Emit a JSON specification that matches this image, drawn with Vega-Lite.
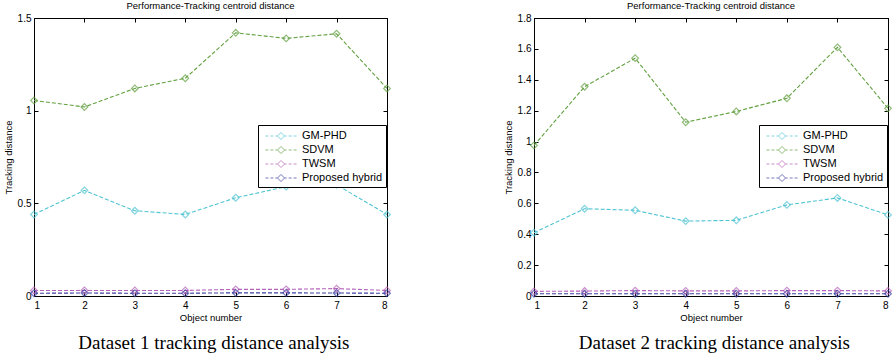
{
  "$schema": "https://vega.github.io/schema/vega-lite/v6.json",
  "padding": {"left": 2, "top": 0, "right": 0, "bottom": 0},
  "background": "white",
  "datasets": {
    "d": [
      {"dataset": 1, "object": 1, "method": "GM-PHD", "value": 0.44},
      {"dataset": 1, "object": 2, "method": "GM-PHD", "value": 0.57},
      {"dataset": 1, "object": 3, "method": "GM-PHD", "value": 0.46},
      {"dataset": 1, "object": 4, "method": "GM-PHD", "value": 0.44},
      {"dataset": 1, "object": 5, "method": "GM-PHD", "value": 0.53},
      {"dataset": 1, "object": 6, "method": "GM-PHD", "value": 0.59},
      {"dataset": 1, "object": 7, "method": "GM-PHD", "value": 0.6},
      {"dataset": 1, "object": 8, "method": "GM-PHD", "value": 0.44},
      {"dataset": 1, "object": 1, "method": "SDVM", "value": 1.055},
      {"dataset": 1, "object": 2, "method": "SDVM", "value": 1.02},
      {"dataset": 1, "object": 3, "method": "SDVM", "value": 1.12},
      {"dataset": 1, "object": 4, "method": "SDVM", "value": 1.175},
      {"dataset": 1, "object": 5, "method": "SDVM", "value": 1.42},
      {"dataset": 1, "object": 6, "method": "SDVM", "value": 1.39},
      {"dataset": 1, "object": 7, "method": "SDVM", "value": 1.415},
      {"dataset": 1, "object": 8, "method": "SDVM", "value": 1.12},
      {"dataset": 1, "object": 1, "method": "TWSM", "value": 0.03},
      {"dataset": 1, "object": 2, "method": "TWSM", "value": 0.03},
      {"dataset": 1, "object": 3, "method": "TWSM", "value": 0.03},
      {"dataset": 1, "object": 4, "method": "TWSM", "value": 0.03},
      {"dataset": 1, "object": 5, "method": "TWSM", "value": 0.036},
      {"dataset": 1, "object": 6, "method": "TWSM", "value": 0.036},
      {"dataset": 1, "object": 7, "method": "TWSM", "value": 0.04},
      {"dataset": 1, "object": 8, "method": "TWSM", "value": 0.03},
      {"dataset": 1, "object": 1, "method": "Proposed hybrid", "value": 0.015},
      {"dataset": 1, "object": 2, "method": "Proposed hybrid", "value": 0.016},
      {"dataset": 1, "object": 3, "method": "Proposed hybrid", "value": 0.015},
      {"dataset": 1, "object": 4, "method": "Proposed hybrid", "value": 0.015},
      {"dataset": 1, "object": 5, "method": "Proposed hybrid", "value": 0.017},
      {"dataset": 1, "object": 6, "method": "Proposed hybrid", "value": 0.017},
      {"dataset": 1, "object": 7, "method": "Proposed hybrid", "value": 0.016},
      {"dataset": 1, "object": 8, "method": "Proposed hybrid", "value": 0.015},
      {"dataset": 2, "object": 1, "method": "GM-PHD", "value": 0.41},
      {"dataset": 2, "object": 2, "method": "GM-PHD", "value": 0.565},
      {"dataset": 2, "object": 3, "method": "GM-PHD", "value": 0.555},
      {"dataset": 2, "object": 4, "method": "GM-PHD", "value": 0.485},
      {"dataset": 2, "object": 5, "method": "GM-PHD", "value": 0.49},
      {"dataset": 2, "object": 6, "method": "GM-PHD", "value": 0.59},
      {"dataset": 2, "object": 7, "method": "GM-PHD", "value": 0.635},
      {"dataset": 2, "object": 8, "method": "GM-PHD", "value": 0.525},
      {"dataset": 2, "object": 1, "method": "SDVM", "value": 0.975},
      {"dataset": 2, "object": 2, "method": "SDVM", "value": 1.355},
      {"dataset": 2, "object": 3, "method": "SDVM", "value": 1.54},
      {"dataset": 2, "object": 4, "method": "SDVM", "value": 1.125},
      {"dataset": 2, "object": 5, "method": "SDVM", "value": 1.195},
      {"dataset": 2, "object": 6, "method": "SDVM", "value": 1.28},
      {"dataset": 2, "object": 7, "method": "SDVM", "value": 1.61},
      {"dataset": 2, "object": 8, "method": "SDVM", "value": 1.215},
      {"dataset": 2, "object": 1, "method": "TWSM", "value": 0.03},
      {"dataset": 2, "object": 2, "method": "TWSM", "value": 0.032},
      {"dataset": 2, "object": 3, "method": "TWSM", "value": 0.035},
      {"dataset": 2, "object": 4, "method": "TWSM", "value": 0.033},
      {"dataset": 2, "object": 5, "method": "TWSM", "value": 0.033},
      {"dataset": 2, "object": 6, "method": "TWSM", "value": 0.035},
      {"dataset": 2, "object": 7, "method": "TWSM", "value": 0.035},
      {"dataset": 2, "object": 8, "method": "TWSM", "value": 0.033},
      {"dataset": 2, "object": 1, "method": "Proposed hybrid", "value": 0.015},
      {"dataset": 2, "object": 2, "method": "Proposed hybrid", "value": 0.015},
      {"dataset": 2, "object": 3, "method": "Proposed hybrid", "value": 0.015},
      {"dataset": 2, "object": 4, "method": "Proposed hybrid", "value": 0.015},
      {"dataset": 2, "object": 5, "method": "Proposed hybrid", "value": 0.015},
      {"dataset": 2, "object": 6, "method": "Proposed hybrid", "value": 0.015},
      {"dataset": 2, "object": 7, "method": "Proposed hybrid", "value": 0.015},
      {"dataset": 2, "object": 8, "method": "Proposed hybrid", "value": 0.015}
    ]
  },
  "config": {
    "font": "Liberation Sans",
    "view": {"stroke": "black", "strokeWidth": 1},
    "axis": {
      "grid": false,
      "domainColor": "black",
      "tickColor": "black",
      "tickSize": -4,
      "labelColor": "black",
      "labelFont": "Liberation Sans",
      "labelFontSize": 10,
      "titleFont": "Liberation Sans",
      "titleFontSize": 9.5,
      "titleFontWeight": "normal",
      "titleColor": "black"
    },
    "legend": {
      "labelFont": "Liberation Sans",
      "labelFontSize": 11,
      "labelColor": "black",
      "title": null,
      "orient": "none",
      "legendX": 224,
      "legendY": 107,
      "strokeColor": "black",
      "fillColor": "white",
      "padding": 3,
      "rowPadding": 0,
      "symbolType": "M-0.5,0H-0.08M0.2,0H0.62M0.9,0H1.2M2.2,0H2.5M2.78,0H3.2M3.48,0H3.9M1.7,-0.5L2.2,0L1.7,0.5L1.2,0Z",
      "symbolSize": 200,
      "symbolStrokeWidth": 1,
      "symbolFillColor": "transparent",
      "labelOffset": 25
    }
  },
  "spacing": 108,
  "hconcat": [
    {
      "title": {"text": "Dataset 1 tracking distance analysis", "orient": "bottom", "anchor": "middle", "font": "Liberation Serif", "fontSize": 19, "fontWeight": "normal", "color": "black", "offset": 12, "dx": 16},
      "vconcat": [
        {
          "width": 353,
          "height": 278,
          "title": {"text": "Performance-Tracking centroid distance", "font": "Liberation Sans", "fontSize": 9.5, "fontWeight": "normal", "color": "black", "offset": 3},
          "data": {"name": "d"},
          "transform": [{"filter": "datum.dataset == 1"}],
          "layer": [
            {"mark": {"type": "line", "strokeDash": [4, 2], "strokeWidth": 1.1},
             "encoding": {
               "x": {"field": "object", "type": "quantitative", "scale": {"domain": [1, 8], "nice": false}, "axis": {"values": [1, 2, 3, 4, 5, 6, 7, 8], "title": "Object number", "labelPadding": 8, "titlePadding": 2}},
               "y": {"field": "value", "type": "quantitative", "scale": {"domain": [0, 1.5], "nice": false}, "axis": {"values": [0, 0.5, 1, 1.5], "format": "~g", "title": "Tracking distance", "labelPadding": 7, "titlePadding": 4}},
               "color": {"field": "method", "type": "nominal", "scale": {"domain": ["GM-PHD", "SDVM", "TWSM", "Proposed hybrid"], "range": ["#4fc4d2", "#62a040", "#b562b8", "#3c40a0"]}, "legend": {"legendX": 224, "legendY": 107}}
             }},
            {"mark": {"type": "point", "shape": "diamond", "filled": false, "size": 45, "strokeWidth": 1.2},
             "encoding": {
               "x": {"field": "object", "type": "quantitative", "axis": null},
               "y": {"field": "value", "type": "quantitative", "axis": null},
               "color": {"field": "method", "type": "nominal"}
             }},
            {"mark": {"type": "point", "opacity": 0},
             "encoding": {
               "x": {"field": "object", "type": "quantitative", "axis": {"orient": "top", "values": [1, 2, 3, 4, 5, 6, 7, 8], "labels": false, "title": null}},
               "y": {"field": "value", "type": "quantitative", "axis": {"orient": "right", "values": [0, 0.5, 1, 1.5], "labels": false, "title": null}}
             }}
          ],
          "resolve": {"axis": {"x": "independent", "y": "independent"}}
        }
      ]
    },
    {
      "title": {"text": "Dataset 2 tracking distance analysis", "orient": "bottom", "anchor": "middle", "font": "Liberation Serif", "fontSize": 19, "fontWeight": "normal", "color": "black", "offset": 12, "dx": 16},
      "vconcat": [
        {
          "width": 354,
          "height": 278,
          "title": {"text": "Performance-Tracking centroid distance", "font": "Liberation Sans", "fontSize": 9.5, "fontWeight": "normal", "color": "black", "offset": 3},
          "data": {"name": "d"},
          "transform": [{"filter": "datum.dataset == 2"}],
          "layer": [
            {"mark": {"type": "line", "strokeDash": [4, 2], "strokeWidth": 1.1},
             "encoding": {
               "x": {"field": "object", "type": "quantitative", "scale": {"domain": [1, 8], "nice": false}, "axis": {"values": [1, 2, 3, 4, 5, 6, 7, 8], "title": "Object number", "labelPadding": 8, "titlePadding": 2}},
               "y": {"field": "value", "type": "quantitative", "scale": {"domain": [0, 1.8], "nice": false}, "axis": {"values": [0, 0.2, 0.4, 0.6, 0.8, 1, 1.2, 1.4, 1.6, 1.8], "format": "~g", "title": "Tracking distance", "labelPadding": 7, "titlePadding": 4}},
               "stroke": {"field": "method", "type": "nominal", "scale": {"domain": ["GM-PHD", "SDVM", "TWSM", "Proposed hybrid"], "range": ["#4fc4d2", "#62a040", "#b562b8", "#3c40a0"]}, "legend": {"legendX": 225, "legendY": 107}}
             }},
            {"mark": {"type": "point", "shape": "diamond", "filled": false, "size": 45, "strokeWidth": 1.2},
             "encoding": {
               "x": {"field": "object", "type": "quantitative", "axis": null},
               "y": {"field": "value", "type": "quantitative", "axis": null},
               "stroke": {"field": "method", "type": "nominal"}
             }},
            {"mark": {"type": "point", "opacity": 0},
             "encoding": {
               "x": {"field": "object", "type": "quantitative", "axis": {"orient": "top", "values": [1, 2, 3, 4, 5, 6, 7, 8], "labels": false, "title": null}},
               "y": {"field": "value", "type": "quantitative", "axis": {"orient": "right", "values": [0, 0.2, 0.4, 0.6, 0.8, 1, 1.2, 1.4, 1.6, 1.8], "labels": false, "title": null}}
             }}
          ],
          "resolve": {"axis": {"x": "independent", "y": "independent"}}
        }
      ]
    }
  ],
  "resolve": {"scale": {"color": "independent", "stroke": "independent"}, "legend": {"color": "independent", "stroke": "independent"}}
}
